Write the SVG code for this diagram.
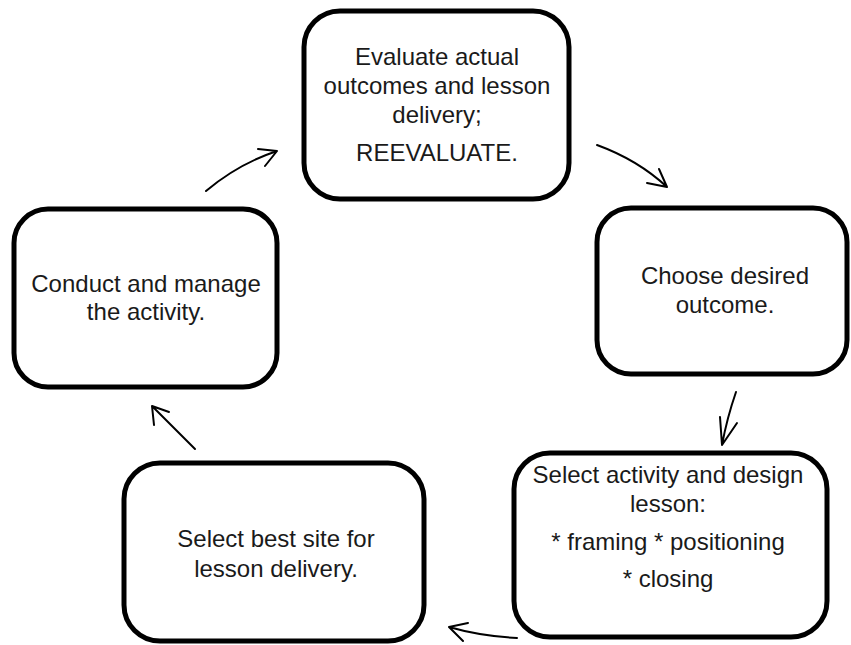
<svg xmlns="http://www.w3.org/2000/svg" width="851" height="645" viewBox="0 0 851 645">
<style>
.box{fill:#fff;stroke:#000;stroke-width:5}
.t{font-family:"Liberation Sans",Arial,sans-serif;font-size:24px;fill:#1a1a1a;text-anchor:middle}
.c{fill:none;stroke:#000;stroke-width:2;stroke-linecap:round;stroke-linejoin:round}
</style>
<rect width="851" height="645" fill="#fff"/>
<g id="n-evaluate">
<rect class="box" x="304" y="11" width="265" height="188" rx="36"/>
<text class="t" x="437" y="65">Evaluate actual</text>
<text class="t" x="437" y="94">outcomes and lesson</text>
<text class="t" x="437" y="123">delivery;</text>
<text class="t" x="437" y="161">REEVALUATE.</text>
</g>
<g id="n-choose">
<rect class="box" x="597" y="208" width="250" height="166" rx="34"/>
<text class="t" x="725" y="284">Choose desired</text>
<text class="t" x="725" y="313">outcome.</text>
</g>
<g id="n-design">
<rect class="box" x="514" y="453" width="313" height="184" rx="36"/>
<text class="t" x="668" y="483">Select activity and design</text>
<text class="t" x="668" y="512">lesson:</text>
<text class="t" x="668" y="550">* framing * positioning</text>
<text class="t" x="668" y="587">* closing</text>
</g>
<g id="n-site">
<rect class="box" x="124" y="463" width="300" height="178" rx="36"/>
<text class="t" x="276" y="547">Select best site for</text>
<text class="t" x="276" y="577">lesson delivery.</text>
</g>
<g id="n-conduct">
<rect class="box" x="14" y="209" width="263" height="178" rx="34"/>
<text class="t" x="146" y="292">Conduct and manage</text>
<text class="t" x="146" y="320">the activity.</text>
</g>
<g id="connectors">
<path class="c" d="M206,191 Q238,164 277,151 M258,149 L277,151 L265,166"/>
<path class="c" d="M597,145 Q638,160 667,187 M659,169 L667,187 L647,183"/>
<path class="c" d="M736,392 Q727,418 722,445 M720,417 L722,445 L737,423"/>
<path class="c" d="M517,638 Q480,636 449,627 M468,623 L449,627 L463,641"/>
<path class="c" d="M195,449 L152,406 M169,412 L152,406 L154,425"/>
</g>
</svg>
